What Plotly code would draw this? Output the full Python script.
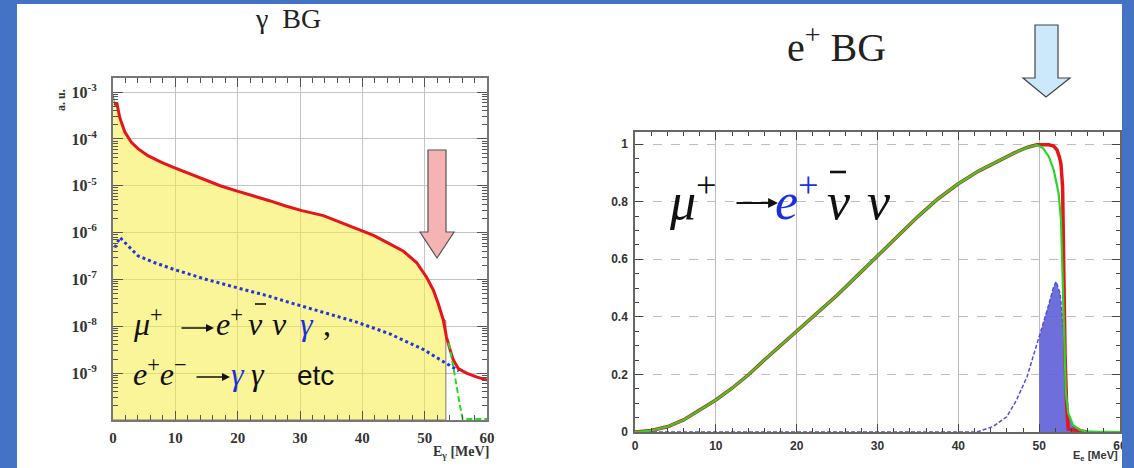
import plotly.graph_objects as go

W, H = 1134, 468

# ---------------- Left panel: gamma background (log scale) ----------------
red_x = [0.3, 0.6, 1.1, 1.9, 2.95, 4.0, 5.6, 7.7, 9.8, 12.4, 14.5, 17.2, 19.8, 22.4,
         25.1, 27.7, 30.3, 33.75, 36.5, 39.1, 41.8, 44.4, 46.6, 48.7, 50.3, 51.4,
         52.2, 53.0, 53.5, 54.1, 54.6, 55.4, 56.7, 58.3, 60.0]
red_y = [5.2e-4, 6.0e-4, 2.8e-4, 1.4e-4, 8.5e-5, 6.2e-5, 4.4e-5, 3.2e-5, 2.45e-5, 1.8e-5,
         1.4e-5, 1.0e-5, 7.8e-6, 6.2e-6, 4.8e-6, 3.7e-6, 2.95e-6, 2.3e-6, 1.65e-6, 1.2e-6,
         8.7e-7, 5.75e-7, 4.0e-7, 2.3e-7, 1.12e-7, 5.9e-8, 3.0e-8, 1.35e-8, 5.9e-9, 3.1e-9,
         1.9e-9, 1.25e-9, 1.0e-9, 8.3e-10, 7.1e-10]

hist_x = [0.0, 0.3, 0.6, 1.1, 1.9, 2.95, 4.0, 5.6, 7.7, 9.8, 12.4, 14.5, 17.2, 19.8, 22.4,
          25.1, 27.7, 30.3, 33.75, 36.5, 39.1, 41.8, 44.4, 46.6, 48.7, 50.3, 51.4, 52.2,
          52.8, 53.4]
hist_y = [9.0e-4, 5.2e-4, 6.0e-4, 2.8e-4, 1.4e-4, 8.5e-5, 6.2e-5, 4.4e-5, 3.2e-5, 2.45e-5,
          1.8e-5, 1.4e-5, 1.0e-5, 7.8e-6, 6.2e-6, 4.8e-6, 3.7e-6, 2.95e-6, 2.3e-6, 1.65e-6,
          1.2e-6, 8.7e-7, 5.75e-7, 4.0e-7, 2.3e-7, 1.12e-7, 5.9e-8, 3.0e-8, 1.6e-8, 1.3e-8]

gee_x = [0.3, 1.1, 4.0, 6.6, 10.0, 15.0, 20.0, 25.0, 28.4, 33.75, 39.1, 44.4, 49.8, 53.5, 55.5]
gee_y = [4.8e-7, 7.9e-7, 3.2e-7, 2.3e-7, 1.6e-7, 1.0e-7, 6.6e-8, 4.4e-8, 3.2e-8, 2.0e-8,
         1.23e-8, 6.9e-9, 3.2e-9, 1.6e-9, 1.12e-9]

grn_x = [53.8, 54.0, 54.6, 55.1, 55.7, 56.1, 60.0]
grn_y = [4.4e-9, 3.6e-9, 1.35e-9, 5.0e-10, 1.9e-10, 1.05e-10, 1.05e-10]

Y_FLOOR = 1e-10
left_xticks = [0, 10, 20, 30, 40, 50, 60]
left_ytick_vals = [1e-9, 1e-8, 1e-7, 1e-6, 1e-5, 1e-4, 1e-3]
left_ytick_text = ["10<sup>-9</sup>", "10<sup>-8</sup>", "10<sup>-7</sup>", "10<sup>-6</sup>",
                   "10<sup>-5</sup>", "10<sup>-4</sup>", "10<sup>-3</sup>"]

# ---------------- Right panel: positron background (linear) ----------------
mg_x = [0, 2, 4, 6, 8, 10, 12, 14, 16, 18, 20, 22.5, 25, 27.5, 30, 32.5, 35, 37.5, 40,
        42.5, 45, 47, 48.5, 49.7, 50.5, 51.2, 51.8, 52.4, 52.7, 52.9, 53.1, 53.3, 53.6,
        54.2, 55.0, 55.9, 60]
mg_y = [0, 0.005, 0.018, 0.042, 0.076, 0.111, 0.152, 0.198, 0.25, 0.30, 0.35, 0.41, 0.475,
        0.543, 0.61, 0.68, 0.748, 0.81, 0.862, 0.906, 0.942, 0.97, 0.988, 0.997, 0.985,
        0.956, 0.91, 0.83, 0.736, 0.505, 0.274, 0.135, 0.065, 0.024, 0.008, 0.001, 0]

mr_x = [0, 2, 4, 6, 8, 10, 12, 14, 16, 18, 20, 22.5, 25, 27.5, 30, 32.5, 35, 37.5, 40,
        42.5, 45, 47, 48.5, 49.7, 50.5, 51.2, 51.8, 52.2, 52.5, 52.7, 52.9, 53.0, 53.2,
        53.4, 53.6, 56.0]
mr_y = [0, 0.005, 0.018, 0.042, 0.076, 0.111, 0.152, 0.198, 0.25, 0.30, 0.35, 0.41, 0.475,
        0.543, 0.61, 0.68, 0.748, 0.81, 0.862, 0.906, 0.942, 0.97, 0.988, 0.997, 0.997,
        0.997, 0.993, 0.98, 0.955, 0.93, 0.85, 0.62, 0.27, 0.09, 0.01, 0]

pos_x = [0, 42.3, 44.3, 46.0, 47.2, 48.5, 49.5, 50.0, 51.0, 51.8, 52.1, 52.6, 53.0, 53.3,
         53.6, 54.2, 55.5, 56.9, 60]
pos_y = [0, 0, 0.019, 0.053, 0.111, 0.192, 0.285, 0.33, 0.424, 0.505, 0.522, 0.48, 0.354,
         0.18, 0.065, 0.019, 0.004, 0, 0]
SEL_FROM = 50.0
right_xticks = [0, 10, 20, 30, 40, 50, 60]

# ---------------- helpers ----------------
def px(x):
    return x / W


def py(y):
    return 1 - y / H


BG_BLUE = "#4472C4"

fig = go.Figure()

# left panel traces
fig.add_trace(go.Scatter(
    x=hist_x + [hist_x[-1], hist_x[0]], y=hist_y + [Y_FLOOR, Y_FLOOR],
    fill="toself", fillcolor="rgba(246,236,70,0.55)", mode="lines",
    line=dict(color="#7a7a60", width=1), xaxis="x", yaxis="y", hoverinfo="skip"))
fig.add_trace(go.Scatter(x=gee_x, y=gee_y, mode="lines",
                         line=dict(color="#2336d8", width=3, dash="dot"),
                         xaxis="x", yaxis="y"))
fig.add_trace(go.Scatter(x=red_x, y=red_y, mode="lines",
                         line=dict(color="#e8141c", width=3),
                         xaxis="x", yaxis="y"))
fig.add_trace(go.Scatter(x=grn_x, y=grn_y, mode="lines",
                         line=dict(color="#22dd22", width=2, dash="6px,3px"),
                         xaxis="x", yaxis="y"))

# right panel traces
sel_x = [x for x in pos_x if x >= SEL_FROM and x < 57]
sel_y = [y for x, y in zip(pos_x, pos_y) if x >= SEL_FROM and x < 57]
fig.add_trace(go.Scatter(x=sel_x, y=sel_y, mode="lines", fill="tozeroy",
                         fillcolor="rgba(95,95,215,0.9)", line=dict(width=0),
                         xaxis="x2", yaxis="y2"))
fig.add_trace(go.Scatter(x=pos_x, y=pos_y, mode="lines",
                         line=dict(color="#5050dd", width=1.5, dash="4px,2px"),
                         xaxis="x2", yaxis="y2"))
fig.add_trace(go.Scatter(x=mr_x, y=mr_y, mode="lines",
                         line=dict(color="#e8141c", width=3.5),
                         xaxis="x2", yaxis="y2"))
fig.add_trace(go.Scatter(x=mg_x, y=mg_y, mode="lines",
                         line=dict(color="#2ad52a", width=2.2),
                         xaxis="x2", yaxis="y2"))

serif_b = dict(family="Liberation Serif", size=15, color="#333", weight="bold")
serif_by = dict(family="Liberation Serif", size=16, color="#333", weight="bold")
sans_b = dict(family="Liberation Sans", size=12, color="#333", weight="bold")

fig.update_layout(
    template="none",
    width=W, height=H, autosize=False,
    margin=dict(l=0, r=0, t=0, b=0, pad=0),
    paper_bgcolor=BG_BLUE, plot_bgcolor="white",
    showlegend=False,
    xaxis=dict(domain=[px(113), px(487)], range=[0, 60], tickvals=left_xticks,
               automargin=False,
               ticks="inside", ticklen=9, tickwidth=1.2, tickcolor="#555",
               showline=True, linecolor="#777", linewidth=2, mirror="allticks",
               showgrid=True, gridcolor="#c4c4c4", gridwidth=1, zeroline=False,
               tickfont=serif_b, ticklabelstandoff=3,
               minor=dict(dtick=2, tick0=0, ticks="inside", ticklen=5, tickcolor="#555",
                          showgrid=False),
               anchor="y"),
    yaxis=dict(type="log", domain=[py(420), py(78)], range=[-10, -2.70],
               tickmode="array", tickvals=left_ytick_vals, ticktext=left_ytick_text,
               automargin=False,
               ticks="inside", ticklen=10, tickwidth=1.2, tickcolor="#555",
               showline=True, linecolor="#777", linewidth=2, mirror="allticks",
               showgrid=True, gridcolor="#c4c4c4", gridwidth=1, zeroline=False,
               tickfont=serif_by, ticklabelstandoff=11,
               minor=dict(dtick="D1", ticks="inside", ticklen=5, tickcolor="#555",
                          showgrid=False),
               anchor="x"),
    xaxis2=dict(domain=[px(635), px(1120)], range=[0, 60], tickvals=right_xticks,
                automargin=False,
                ticks="inside", ticklen=8, tickwidth=1.2, tickcolor="#444",
                showline=True, linecolor="#666", linewidth=1.5, mirror="allticks",
                showgrid=True, gridcolor="#bdbdbd", gridwidth=1, zeroline=False,
                tickfont=sans_b, ticklabelstandoff=2,
                minor=dict(dtick=2, tick0=0, ticks="inside", ticklen=4, tickcolor="#444",
                           showgrid=False),
                anchor="y2"),
    yaxis2=dict(domain=[py(432), py(132)], range=[0, 1.0417], dtick=0.2, tick0=0,
                automargin=False,
                ticks="inside", ticklen=8, tickwidth=1.2, tickcolor="#444",
                showline=True, linecolor="#666", linewidth=1.5, mirror="allticks",
                showgrid=True, gridcolor="#bdbdbd", gridwidth=1, griddash="dash",
                zeroline=False, tickfont=sans_b, ticklabelstandoff=3,
                minor=dict(dtick=0.05, tick0=0, ticks="inside", ticklen=4,
                           tickcolor="#444", showgrid=False),
                anchor="x2"),
)


def poly(points):
    s = "M " + " L ".join(f"{px(a):.5f},{py(b):.5f}" for a, b in points) + " Z"
    return s


def bar(x0, x1, y, width):
    return dict(type="line", xref="paper", yref="paper", x0=px(x0), x1=px(x1),
                y0=py(y), y1=py(y), line=dict(color="#111", width=width), layer="above")


shapes = [
    # white slide area
    dict(type="rect", xref="paper", yref="paper", x0=px(17), x1=px(1122), y0=0,
         y1=py(4), fillcolor="white", line=dict(width=0), layer="below"),
    # pink arrow (left panel)
    dict(type="path", xref="paper", yref="paper",
         path=poly([(428, 150), (446, 150), (446, 232), (454, 232), (437, 258),
                    (420, 232), (428, 232)]),
         fillcolor="#f5b3b3", line=dict(color="#555", width=1.2), layer="above"),
    # light-blue arrow (right panel)
    dict(type="path", xref="paper", yref="paper",
         path=poly([(1035, 25), (1058, 25), (1058, 78), (1070, 78), (1046, 97),
                    (1023, 78), (1035, 78)]),
         fillcolor="#cce9fb", line=dict(color="#444", width=1.2), layer="above"),
    # right blue border strip covering overflow
    dict(type="rect", xref="paper", yref="paper", x0=px(1122), x1=1, y0=0, y1=1,
         fillcolor=BG_BLUE, line=dict(width=0), layer="above"),
    # anti-neutrino bars
    bar(255, 266, 304, 1.6),
    bar(830, 846, 172, 2.6),
]
fig.update_layout(shapes=shapes)


def ann(text, x, y, size, family="Liberation Serif", color="#111", xanchor="left",
        yanchor="bottom", angle=0, weight="normal"):
    return dict(text=text, x=px(x), y=py(y), xref="paper", yref="paper",
                xanchor=xanchor, yanchor=yanchor, showarrow=False, borderpad=0,
                textangle=angle,
                font=dict(family=family, size=size, color=color, weight=weight))


def arrow(x0, x1, y, width=1.6, size=1.0):
    return dict(text="", x=px(x1), y=py(y), xref="paper", yref="paper",
                ax=x0 - x1, ay=0, axref="pixel", ayref="pixel", showarrow=True,
                arrowhead=2, arrowsize=size, arrowwidth=width, arrowcolor="#111",
                standoff=0, startstandoff=0)


BLUE_TXT = "#1c2fe0"
anns = [
    ann("γ  BG", 288, 35, 28, xanchor="center", color="#222"),
    ann("e<sup>+</sup> BG", 836, 71, 40, xanchor="center", color="#222"),
    ann("a. u.", 61, 100, 12, xanchor="center", yanchor="middle", angle=-90,
        weight="bold", color="#333"),
    ann("E<sub>γ</sub> [MeV]", 490, 462, 14, xanchor="right", weight="bold",
        color="#333"),
    ann("E<sub>e</sub> [MeV]", 1119, 464, 11, family="Liberation Sans",
        xanchor="right", weight="bold", color="#333"),
    # left formula, line 1
    ann("<i>μ</i><sup>+</sup>", 132, 343, 32),
    arrow(180, 214, 328),
    ann("<i>e</i><sup>+</sup>", 215, 343, 32),
    ann("<i>ν</i>", 247, 343, 32),
    ann("<i>ν</i>", 271, 343, 32),
    ann("<i>γ</i>", 299, 343, 32, color=BLUE_TXT),
    ann(",", 322, 343, 32),
    # left formula, line 2
    ann("<i>e</i><sup>+</sup><i>e</i><sup>−</sup>", 132, 393, 32),
    arrow(195, 230, 377),
    ann("<i>γ</i>", 230, 393, 32, color=BLUE_TXT),
    ann("<i>γ</i>", 250, 393, 32),
    ann("etc", 296, 392, 28, family="Liberation Sans"),
    # right formula
    ann("<i>μ</i><sup>+</sup>", 668, 231, 52),
    arrow(735, 778, 203, width=2.2, size=0.9),
    ann("<i>e</i><sup>+</sup>", 774, 231, 52, color=BLUE_TXT),
    ann("<i>ν</i>", 826, 231, 52),
    ann("<i>ν</i>", 866, 231, 52),
]
fig.update_layout(annotations=anns)

fig.write_html("out.html", config={"displayModeBar": False})
